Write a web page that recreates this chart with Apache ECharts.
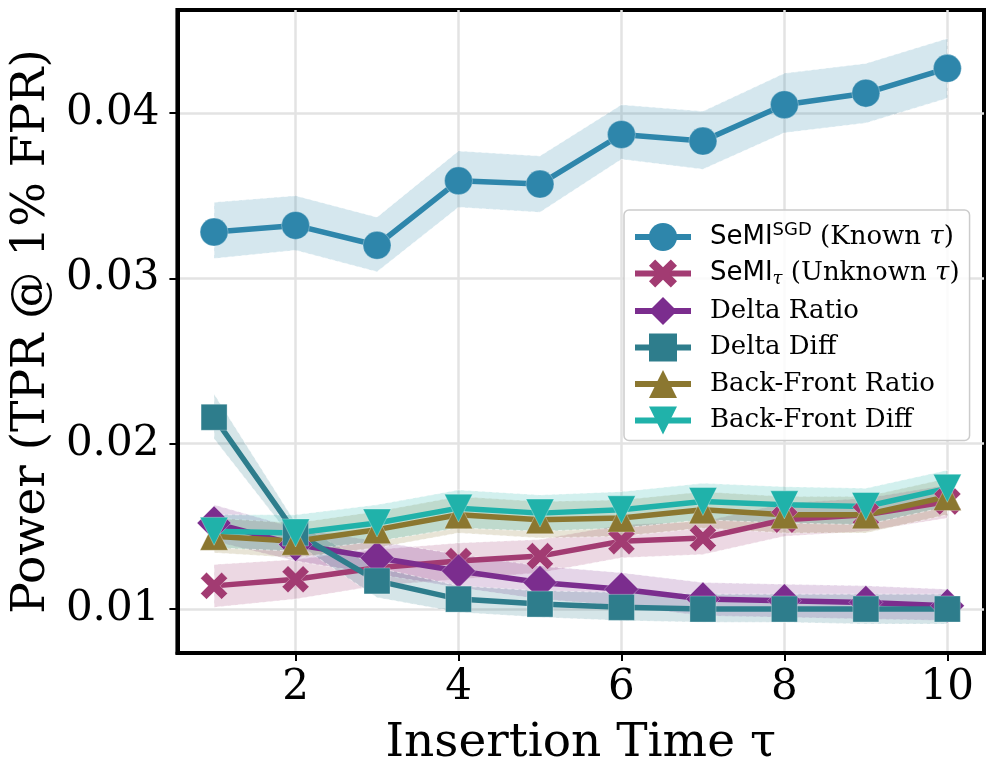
<!DOCTYPE html>
<html>
<head>
<meta charset="utf-8">
<script src="https://cdn.jsdelivr.net/npm/echarts@6/dist/echarts.min.js"></script>
<style>
  html, body { margin: 0; padding: 0; background: #fff; }
  #chart { width: 996px; height: 779px; }
</style>
</head>
<body>
<div id="chart"></div>
<script>
// insertion time tau
const tauVals = [1, 2, 3, 4, 5, 6, 7, 8, 9, 10]
const xTicks = [2, 4, 6, 8, 10]
const yTicks = [0.01, 0.02, 0.03, 0.04]

// SeMI^SGD (known tau)
const semiSgd   = [0.0328, 0.0332, 0.0320, 0.0359, 0.0357, 0.0387, 0.0383, 0.0405, 0.0412, 0.0427]
const semiSgdLo = [0.0312, 0.0317, 0.0304, 0.0343, 0.0340, 0.0372, 0.0366, 0.0388, 0.0394, 0.0409]
const semiSgdHi = [0.0346, 0.0350, 0.0337, 0.0377, 0.0374, 0.0405, 0.0401, 0.0424, 0.0430, 0.0445]

// SeMI_tau (unknown tau)
const semiTau   = [0.0114, 0.0118, 0.0125, 0.0129, 0.0132, 0.0141, 0.0143, 0.0154, 0.0157, 0.0165]
const semiTauLo = [0.0101, 0.0106, 0.0114, 0.0118, 0.0122, 0.0131, 0.0133, 0.0144, 0.0147, 0.0155]
const semiTauHi = [0.0127, 0.0130, 0.0136, 0.0140, 0.0142, 0.0151, 0.0153, 0.0164, 0.0167, 0.0175]

// Delta Ratio
const deltaRatio   = [0.0152, 0.0139, 0.0131, 0.0123, 0.0116, 0.0112, 0.0106, 0.0105, 0.0104, 0.0102]
const deltaRatioLo = [0.0141, 0.0129, 0.0121, 0.0113, 0.0106, 0.0102, 0.0096, 0.0095, 0.0094, 0.0093]
const deltaRatioHi = [0.0163, 0.0149, 0.0141, 0.0133, 0.0126, 0.0122, 0.0116, 0.0115, 0.0114, 0.0112]

// Delta Diff
const deltaDiff   = [0.0216, 0.0146, 0.0117, 0.0106, 0.0103, 0.0101, 0.0100, 0.0100, 0.0100, 0.0100]
const deltaDiffLo = [0.0203, 0.0140, 0.0107, 0.0098, 0.0095, 0.0093, 0.0092, 0.0092, 0.0091, 0.0091]
const deltaDiffHi = [0.0230, 0.0152, 0.0125, 0.0114, 0.0111, 0.0110, 0.0109, 0.0109, 0.0109, 0.0109]

// Back-Front Ratio
const bfRatio   = [0.0144, 0.0141, 0.0148, 0.0157, 0.0154, 0.0155, 0.0160, 0.0157, 0.0157, 0.0168]
const bfRatioLo = [0.0134, 0.0131, 0.0137, 0.0146, 0.0143, 0.0144, 0.0149, 0.0146, 0.0146, 0.0157]
const bfRatioHi = [0.0155, 0.0152, 0.0159, 0.0168, 0.0165, 0.0166, 0.0171, 0.0168, 0.0168, 0.0179]

// Back-Front Diff
const bfDiff   = [0.0147, 0.0146, 0.0152, 0.0161, 0.0158, 0.0160, 0.0165, 0.0163, 0.0162, 0.0173]
const bfDiffLo = [0.0137, 0.0135, 0.0141, 0.0149, 0.0147, 0.0149, 0.0154, 0.0152, 0.0151, 0.0162]
const bfDiffHi = [0.0157, 0.0157, 0.0163, 0.0172, 0.0169, 0.0171, 0.0176, 0.0174, 0.0173, 0.0184]

const serifFont = '"DejaVu Serif", serif'
const sansFont = '"DejaVu Sans", sans-serif'

// filled "X" marker like matplotlib's 'X'
const xMarker = 'path://M0,22 L22,0 L50,28 L78,0 L100,22 L72,50 L100,78 L78,100 L50,72 L22,100 L0,78 L28,50 Z'

const zip = (ys) => tauVals.map((t, i) => [t, ys[i]])

function bandSeries(lo, hi, rgb) {
    return {
        type: 'custom',
        silent: true,
        z: 1,
        clip: true,
        data: [[tauVals[0], lo[0]]],
        renderItem: function (params, api) {
            let pts = []
            for (let i = 0; i < tauVals.length; i++) pts.push(api.coord([tauVals[i], hi[i]]))
            for (let i = tauVals.length - 1; i >= 0; i--) pts.push(api.coord([tauVals[i], lo[i]]))
            return {
                type: 'polygon',
                shape: { points: pts },
                style: {
                    fill: 'rgba(' + rgb + ',0.2)',
                    stroke: 'rgba(255,255,255,0.55)',
                    lineWidth: 1,
                    lineDash: [4, 3]
                }
            }
        }
    }
}

function lineSeries(name, ys, color, symbol, size, rotate) {
    return {
        name: name,
        type: 'line',
        z: 3,
        data: zip(ys),
        symbol: symbol,
        symbolSize: size,
        symbolRotate: rotate || 0,
        showAllSymbol: true,
        clip: false,
        lineStyle: { color: color, width: 5.5, type: 'solid' },
        itemStyle: { color: color, borderColor: 'rgba(255,255,255,0.5)', borderWidth: 0.6, opacity: 1 },
        emphasis: { disabled: true }
    }
}

const legendLabels = {
    'SeMI SGD': '{s|SeMI}{sup|SGD}{r| (Known }{i|τ}{r|)}',
    'SeMI tau': '{s|SeMI}{sub|τ}{r| (Unknown }{i|τ}{r|)}',
    'Delta Ratio': '{r|Delta Ratio}',
    'Delta Diff': '{r|Delta Diff}',
    'Back-Front Ratio': '{r|Back-Front Ratio}',
    'Back-Front Diff': '{r|Back-Front Diff}'
}

let chart = echarts.init(document.getElementById('chart'), null, { renderer: 'canvas' })

const option = {
    animation: false,
    backgroundColor: '#fff',
    grid: {
        left: 177,
        right: 12,
        top: 10,
        bottom: 126,
        show: true,
        borderColor: '#000',
        borderWidth: 4,
        backgroundColor: 'transparent'
    },
    legend: {
        left: 624,
        top: 210,
        orient: 'vertical',
        padding: [11, 10, 6, 8],
        itemWidth: 56,
        itemHeight: 35,
        itemGap: 8.5,
        backgroundColor: 'rgba(255,255,255,0.85)',
        borderColor: '#cccccc',
        borderWidth: 1.5,
        borderRadius: 5,
        selectedMode: false,
        lineStyle: { width: 6, type: 'solid', opacity: 1 },
        itemStyle: { borderWidth: 0 },
        data: ['SeMI SGD', 'SeMI tau', 'Delta Ratio', 'Delta Diff', 'Back-Front Ratio', 'Back-Front Diff'],
        formatter: function (name) {
            return legendLabels[name]
        },
        textStyle: {
            padding: [0, 0, 0, 14],
            rich: {
                s: { fontFamily: sansFont, fontSize: 26, color: '#000' },
                sup: { fontFamily: sansFont, fontSize: 18, color: '#000', padding: [0, 0, 14, 0] },
                sub: { fontFamily: serifFont, fontStyle: 'italic', fontSize: 18, color: '#000', padding: [12, 0, 0, 0] },
                r: { fontFamily: serifFont, fontSize: 26, color: '#000' },
                i: { fontFamily: serifFont, fontStyle: 'italic', fontSize: 26, color: '#000' }
            }
        }
    },
    xAxis: {
        type: 'value',
        min: 0.55,
        max: 10.45,
        name: 'Insertion Time τ',
        nameLocation: 'middle',
        nameGap: 67,
        nameTextStyle: { fontFamily: serifFont, fontSize: 47, color: '#000' },
        axisLine: { show: true, onZero: false, lineStyle: { color: '#000', width: 4 } },
        axisTick: { show: true, length: 8, customValues: xTicks, lineStyle: { color: '#000', width: 2 } },
        axisLabel: {
            customValues: xTicks,
            fontFamily: serifFont,
            fontSize: 42,
            color: '#000',
            margin: 14
        },
        splitLine: { show: true, lineStyle: { color: '#e3e3e3', width: 2.5 } }
    },
    yAxis: {
        type: 'value',
        min: 0.00734,
        max: 0.04623,
        name: 'Power (TPR @ 1% FPR)',
        nameLocation: 'middle',
        nameGap: 120,
        nameTextStyle: { fontFamily: serifFont, fontSize: 47, color: '#000' },
        axisLine: { show: true, onZero: false, lineStyle: { color: '#000', width: 4 } },
        axisTick: { show: true, length: 8, customValues: yTicks, lineStyle: { color: '#000', width: 2 } },
        axisLabel: {
            customValues: yTicks,
            formatter: function (val) {
                return val.toFixed(2)
            },
            fontFamily: serifFont,
            fontSize: 42,
            color: '#000',
            margin: 18
        },
        splitLine: { show: true, lineStyle: { color: '#e3e3e3', width: 2.5 } }
    },
    series: [
        bandSeries(semiSgdLo, semiSgdHi, '46,134,171'),
        bandSeries(semiTauLo, semiTauHi, '162,59,114'),
        bandSeries(deltaRatioLo, deltaRatioHi, '123,45,142'),
        bandSeries(deltaDiffLo, deltaDiffHi, '46,125,140'),
        bandSeries(bfRatioLo, bfRatioHi, '139,119,48'),
        bandSeries(bfDiffLo, bfDiffHi, '32,178,170'),
        lineSeries('SeMI SGD', semiSgd, '#2E86AB', 'circle', 28),
        lineSeries('SeMI tau', semiTau, '#A23B72', xMarker, 27),
        lineSeries('Delta Ratio', deltaRatio, '#7B2D8E', 'diamond', 34),
        lineSeries('Delta Diff', deltaDiff, '#2E7D8C', 'rect', 26),
        lineSeries('Back-Front Ratio', bfRatio, '#8B7730', 'triangle', 28),
        lineSeries('Back-Front Diff', bfDiff, '#20B2AA', 'triangle', 28, 180)
    ]
}

chart.setOption(option)
</script>
</body>
</html>
